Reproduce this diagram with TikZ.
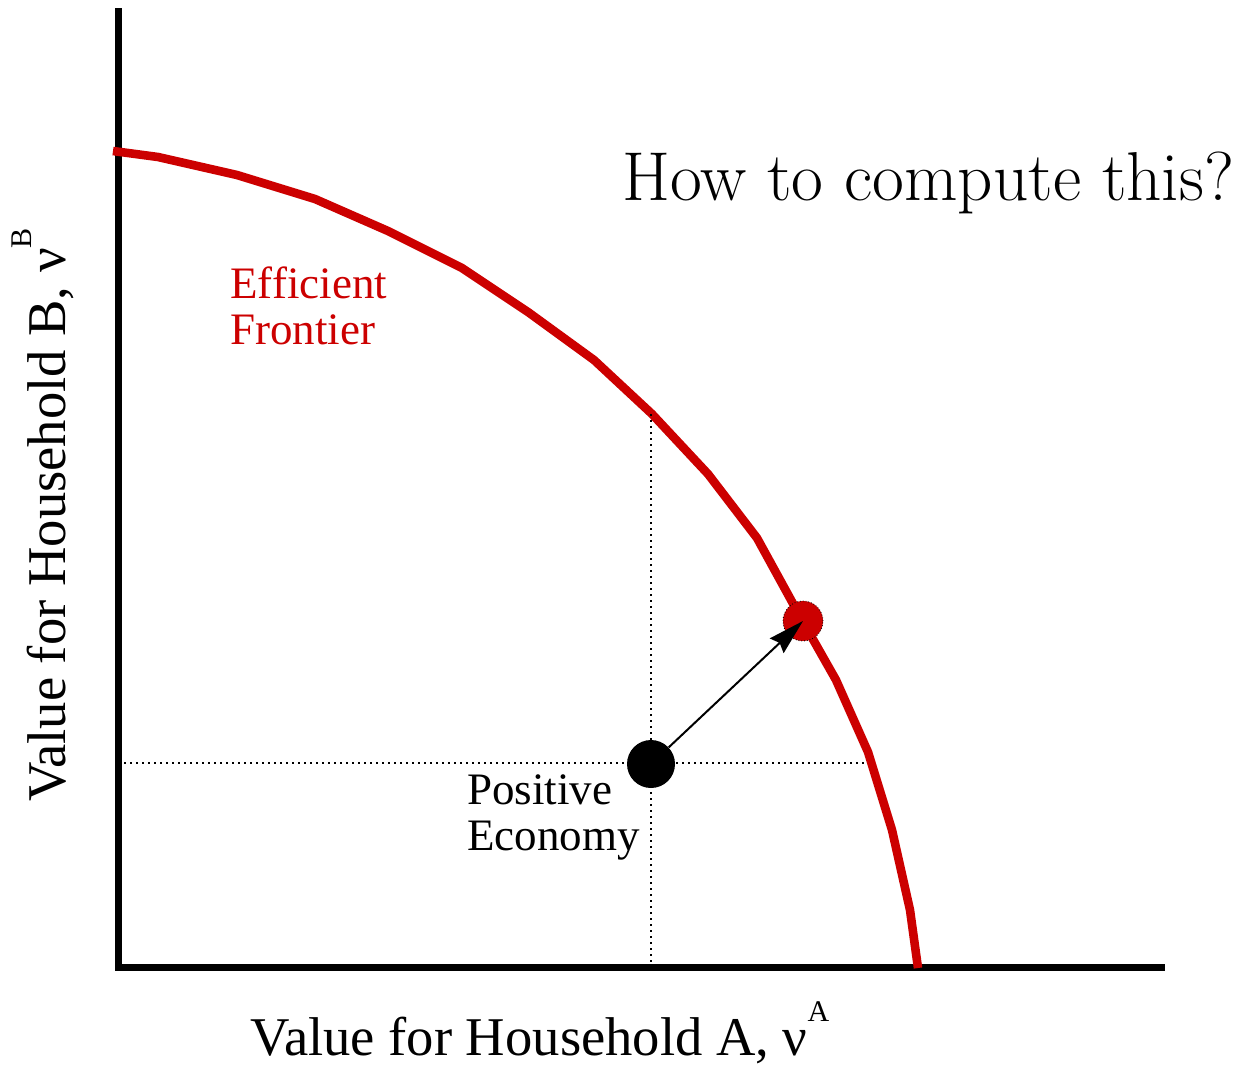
\documentclass[tikz,border=0pt]{standalone}
\usepackage{fontspec}
\newfontfamily\timesfont{Liberation Serif}
\usetikzlibrary{arrows.meta}
\definecolor{frontred}{RGB}{204,0,0}

\begin{document}
\begin{tikzpicture}[
    x=0.5pt, y=-0.5pt,
    axisline/.style={line width=3.5pt},
    guide/.style={dotted, line width=1pt},
    myarrow/.style={-{Stealth[length=18pt, width=10pt, inset=2pt]}, line width=1pt},
    label/.style={font=\timesfont\fontsize{22.5}{23}\selectfont, inner sep=0pt},
    axislabel/.style={font=\timesfont\fontsize{27.3}{29}\selectfont, inner sep=0pt},
    heading/.style={font=\fontsize{34.6}{38}\selectfont, inner sep=0pt},
]
\useasboundingbox (0,0) rectangle (1236,1067);

% ===================== AXES =====================
\coordinate (origin) at (118,967);
\coordinate (ytop) at (118,8);
\coordinate (xend) at (1165,967);
\draw[axisline] (ytop) -- (origin) -- (xend);

% ===================== FRONTIER =====================
\draw[frontred, line width=4.3pt, line join=round] plot coordinates {
    (113,151) (158,157) (237,175) (315,199) (388,231) (462,268)
    (528,312) (594,360) (652,414) (708,474) (757,538) (802,620)
    (836,680) (868,752) (892,830) (910,910) (918,968)};

% ===================== POINTS =====================
\node[circle, fill=black, inner sep=0pt, minimum size=24] (posecon) at (651,764) {};
\node[circle, fill=frontred, draw=black, densely dotted, line width=0.4pt,
      inner sep=0pt, minimum size=20] (effpt) at (803,621) {};

% guides from the positive economy
\coordinate (yfoot) at (118,763);
\coordinate (xfoot) at (651,967);
\coordinate (fronth) at (866,763);
\coordinate (frontv) at (651,414);
\draw[guide] (yfoot) -- (fronth);
\draw[guide] (frontv) -- (xfoot);

\draw[myarrow] (posecon) -- (effpt.center);

% ===================== LABELS =====================
\node[heading, anchor=base west] (question) at (622,200) {How to compute this?};

\node[label, text=frontred, anchor=north west, align=left] (frontlbl) at (230,266)
    {Efficient\\Frontier};
\node[label, anchor=north west, align=left] (poslbl) at (467,774)
    {Positive\\Economy};

\node[axislabel, anchor=base] (xlbl) at (540,1055)
    {Value for Household A, ν\raisebox{0.62em}{\fontsize{15}{15}\selectfont A}};
\node[axislabel, anchor=base, rotate=90] (ylbl) at (65,515)
    {Value for Household B, ν\raisebox{0.62em}{\fontsize{15}{15}\selectfont B}};

\end{tikzpicture}
\end{document}
